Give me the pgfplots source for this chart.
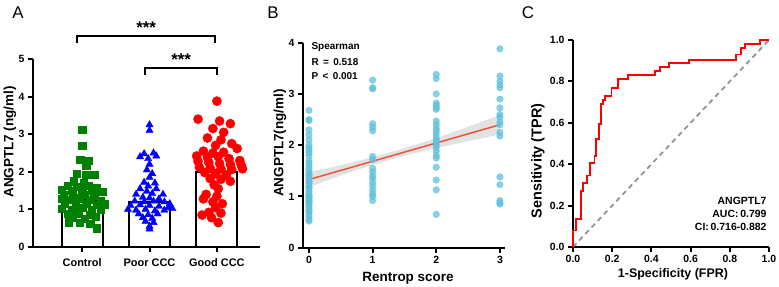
\documentclass[border=0pt]{standalone}
\usepackage{fontspec}
\setmainfont{Liberation Sans}
\usepackage{pgfplots}
\pgfplotsset{compat=1.18}
\definecolor{cgreen}{RGB}{0,128,0}
\definecolor{cblue}{RGB}{0,0,255}
\definecolor{cred}{RGB}{255,0,0}
\definecolor{cscat}{RGB}{96,192,220}
\definecolor{cline}{RGB}{236,84,56}
\definecolor{cband}{RGB}{190,190,190}
\pgfplotsset{myax/.style={scale only axis, axis x line*=bottom, axis y line*=left,
  axis line style={line width=2bp,-}, every tick/.style={black, line width=2bp},
  tick align=outside, major tick length=5bp,
  tick label style={font=\fontsize{10.5}{12}\selectfont\bfseries},
  /pgf/number format/assume math mode=true, clip=false}}
\begin{document}
\begin{tikzpicture}
\useasboundingbox (0,0) rectangle (779bp,287bp);
% ---------------- Panel A
\begin{axis}[myax, at={(33bp,40bp)}, anchor=south west, width=227bp, height=188bp,
  xmin=-0.73, xmax=2.64, ymin=0, ymax=5, ytick={0,1,2,3,4,5},
  xtick={0,1,2}, xticklabels={Control,Poor CCC,Good CCC},
  xticklabel style={font=\fontsize{11}{13}\selectfont\bfseries, yshift=-3bp}]
\addplot[ybar, bar width=41bp, fill=white, draw=black, line width=2bp] coordinates {(0,1.26) (1,1.20) (2,2.00)};
\addplot[only marks, mark=square*, mark size=3.6bp, color=cgreen] table {
0 3.12
0 2.70
-0.03 2.32
0.10 2.30
0.06 2.17
-0.08 1.95
0.05 1.93
0.18 1.92
-0.12 1.75
0.02 1.70
-0.22 1.62
-0.08 1.60
0.10 1.62
0.22 1.58
-0.30 1.52
-0.16 1.50
0.00 1.52
0.14 1.50
0.30 1.48
-0.28 1.40
-0.14 1.38
0.04 1.40
0.18 1.36
-0.30 1.28
-0.18 1.25
-0.04 1.30
0.12 1.26
0.28 1.22
-0.26 1.15
-0.10 1.14
0.06 1.16
0.22 1.12
0.34 1.14
-0.30 1.02
-0.16 1.00
0.00 1.04
0.14 0.98
0.28 1.00
-0.22 0.88
-0.06 0.90
0.12 0.86
-0.14 0.78
0.04 0.76
0.20 0.80
-0.20 0.66
-0.04 0.64
0.12 0.62
0.22 0.50
};
\addplot[only marks, mark=triangle*, mark size=4.2bp, color=cblue] table {
1.00 3.25
1.00 3.10
0.92 2.48
1.06 2.50
1.10 2.42
0.86 2.40
0.98 2.35
1.00 2.20
0.96 2.05
1.04 1.95
1.00 1.85
0.92 1.72
1.08 1.70
0.98 1.62
0.86 1.55
1.10 1.55
0.96 1.48
0.80 1.40
1.04 1.42
1.20 1.40
0.90 1.32
1.00 1.30
1.14 1.28
0.78 1.22
0.92 1.20
1.06 1.22
1.22 1.20
1.30 1.15
0.72 1.10
0.86 1.12
1.00 1.10
1.14 1.08
1.28 1.05
0.68 1.00
0.80 0.98
0.94 1.00
1.08 0.96
1.22 0.98
1.34 1.02
0.84 0.88
0.98 0.86
1.12 0.88
0.90 0.78
1.04 0.76
0.94 0.68
1.06 0.65
1.00 0.55
1.00 0.48
};
\addplot[only marks, mark=*, mark size=4.6bp, color=cred] table {
2.00 3.88
1.72 3.40
2.04 3.35
2.20 3.28
1.94 3.15
2.10 3.05
1.86 2.90
2.06 2.85
2.22 2.75
1.98 2.70
2.30 2.62
1.80 2.55
1.94 2.50
2.10 2.52
1.70 2.42
1.86 2.38
2.02 2.40
2.18 2.35
2.34 2.30
1.72 2.28
1.88 2.25
2.04 2.22
2.20 2.20
2.36 2.18
1.74 2.12
1.90 2.10
2.06 2.08
2.22 2.06
2.38 2.08
1.82 1.98
1.98 1.95
2.14 1.92
1.90 1.82
2.06 1.80
2.20 1.75
1.96 1.65
2.02 1.55
1.84 1.40
2.00 1.35
1.80 1.28
1.94 1.20
2.08 1.15
1.98 1.05
1.88 0.92
2.06 0.90
1.78 0.85
1.92 0.78
2.02 0.65
};
\draw[line width=2bp] (axis cs:-0.07,5.43) -- (axis cs:-0.07,5.61) -- (axis cs:1.97,5.61) -- (axis cs:1.97,5.43);
\node[font=\fontsize{17}{18}\selectfont\bfseries] at (axis cs:0.95,5.83) {***};
\draw[line width=2bp] (axis cs:0.93,4.57) -- (axis cs:0.93,4.76) -- (axis cs:2.0,4.76) -- (axis cs:2.0,4.57);
\node[font=\fontsize{17}{18}\selectfont\bfseries] at (axis cs:1.47,4.98) {***};
\end{axis}
% ---------------- Panel B
\begin{axis}[myax, at={(303bp,39.3bp)}, anchor=south west, width=202bp, height=205bp,
  xmin=-0.094, xmax=3.08, ymin=0, ymax=4, xtick={0,1,2,3}, ytick={0,1,2,3,4}]
\addplot[only marks, mark=*, mark size=3.3bp, color=cscat, opacity=0.75, mark options={draw=cscat, fill=cscat}] table {
0 2.68
0 2.50
0 2.48
0 2.30
0 2.20
0 2.10
0 2.00
0 1.95
0 1.90
0 1.85
0 1.80
0 1.70
0 1.65
0 1.60
0 1.55
0 1.50
0 1.45
0 1.42
0 1.40
0 1.35
0 1.30
0 1.28
0 1.25
0 1.20
0 1.18
0 1.15
0 1.10
0 1.05
0 1.02
0 1.00
0 0.98
0 0.95
0 0.92
0 0.90
0 0.88
0 0.85
0 0.80
0 0.75
0 0.72
0 0.70
0 0.65
0 0.60
0 0.55
0 0.52
1 3.27
1 3.12
1 3.10
1 2.42
1 2.35
1 2.28
1 1.78
1 1.72
1 1.55
1 1.48
1 1.40
1 1.35
1 1.27
1 1.20
1 1.12
1 1.05
1 1.00
1 0.92
2 3.38
2 3.30
2 3.00
2 2.82
2 2.78
2 2.73
2 2.70
2 2.47
2 2.40
2 2.33
2 2.28
2 2.22
2 2.15
2 2.10
2 2.05
2 2.00
2 1.95
2 1.88
2 1.80
2 1.75
2 1.57
2 1.32
2 1.13
2 0.65
3 3.88
3 3.35
3 3.25
3 3.18
3 3.12
3 2.90
3 2.73
3 2.60
3 2.55
3 2.45
3 2.40
3 2.25
3 2.18
3 1.38
3 1.23
3 0.92
3 0.88
3 0.85
};
\addplot[fill=cband, draw=none, fill opacity=0.45] coordinates {(0,1.475)(0.5,1.61)(1,1.765)(1.5,1.945)(2,2.135)(2.5,2.36)(3,2.59)(3,2.21)(2.5,2.08)(2,1.945)(1.5,1.795)(1,1.615)(0.5,1.41)(0,1.185)} -- cycle;
\addplot[cline, line width=1.5bp] coordinates {(0,1.33) (3,2.40)};
\end{axis}
% ---------------- Panel C
\begin{axis}[myax, at={(573bp,40bp)}, anchor=south west, width=196bp, height=207bp,
  xmin=0, xmax=1, ymin=0, ymax=1, xtick={0,0.2,0.4,0.6,0.8,1}, ytick={0,0.2,0.4,0.6,0.8,1},
  xticklabel style={/pgf/number format/fixed,/pgf/number format/fixed zerofill,/pgf/number format/precision=1},
  yticklabel style={/pgf/number format/fixed,/pgf/number format/fixed zerofill,/pgf/number format/precision=1}]
\addplot[gray!85, line width=1.8bp, dash pattern=on 5bp off 4bp] coordinates {(0,0) (1,1)};
\addplot[cred, line width=1.8bp] coordinates {(0,0)(0,0.08)(0.017,0.08)(0.017,0.137)(0.039,0.137)(0.039,0.27)(0.051,0.27)(0.051,0.31)(0.073,0.31)(0.073,0.345)(0.085,0.345)(0.085,0.405)(0.11,0.405)(0.11,0.44)(0.119,0.44)(0.119,0.52)(0.131,0.52)(0.131,0.595)(0.141,0.595)(0.141,0.69)(0.153,0.69)(0.153,0.71)(0.165,0.71)(0.165,0.73)(0.196,0.73)(0.196,0.77)(0.23,0.77)(0.23,0.81)(0.28,0.81)(0.28,0.83)(0.417,0.83)(0.417,0.85)(0.442,0.85)(0.442,0.87)(0.488,0.87)(0.488,0.89)(0.59,0.89)(0.59,0.905)(0.833,0.905)(0.833,0.93)(0.859,0.93)(0.859,0.96)(0.876,0.96)(0.876,0.98)(0.952,0.98)(0.952,1)(1,1)};
\end{axis}
% ---------------- labels
\node[font=\fontsize{17}{18}\selectfont] at (18bp,274bp) {A};
\node[font=\fontsize{17}{18}\selectfont] at (273bp,274bp) {B};
\node[font=\fontsize{17}{18}\selectfont] at (528bp,274bp) {C};
\node[rotate=90, font=\fontsize{13.5}{15}\selectfont\bfseries] at (10bp,145bp) {ANGPTL7 (ng/ml)};
\node[rotate=90, font=\fontsize{13.5}{15}\selectfont\bfseries] at (280bp,144bp) {ANGPTL7(ng/ml)};
\node[rotate=90, font=\fontsize{14.5}{16}\selectfont\bfseries] at (538bp,126bp) {Sensitivity (TPR)};
\node[font=\fontsize{13.5}{15}\selectfont\bfseries] at (408bp,9bp) {Rentrop score};
\node[font=\fontsize{12.5}{14}\selectfont\bfseries] at (673bp,13bp) {1-Specificity (FPR)};
\begin{scope}[font=\fontsize{10}{12}\selectfont\bfseries]
\node[anchor=west] at (308bp,240bp) {Spearman};
\node[anchor=west] at (308bp,225bp) {R \,=\, 0.518};
\node[anchor=west] at (308bp,211bp) {P \,<\, 0.001};
\end{scope}
\begin{scope}[font=\fontsize{10.5}{12}\selectfont\bfseries]
\node[anchor=east] at (770bp,86bp) {ANGPTL7};
\node[anchor=east] at (770bp,73bp) {AUC:\,0.799};
\node[anchor=east] at (770bp,60bp) {CI:\,0.716-0.882};
\end{scope}
\end{tikzpicture}
\end{document}
